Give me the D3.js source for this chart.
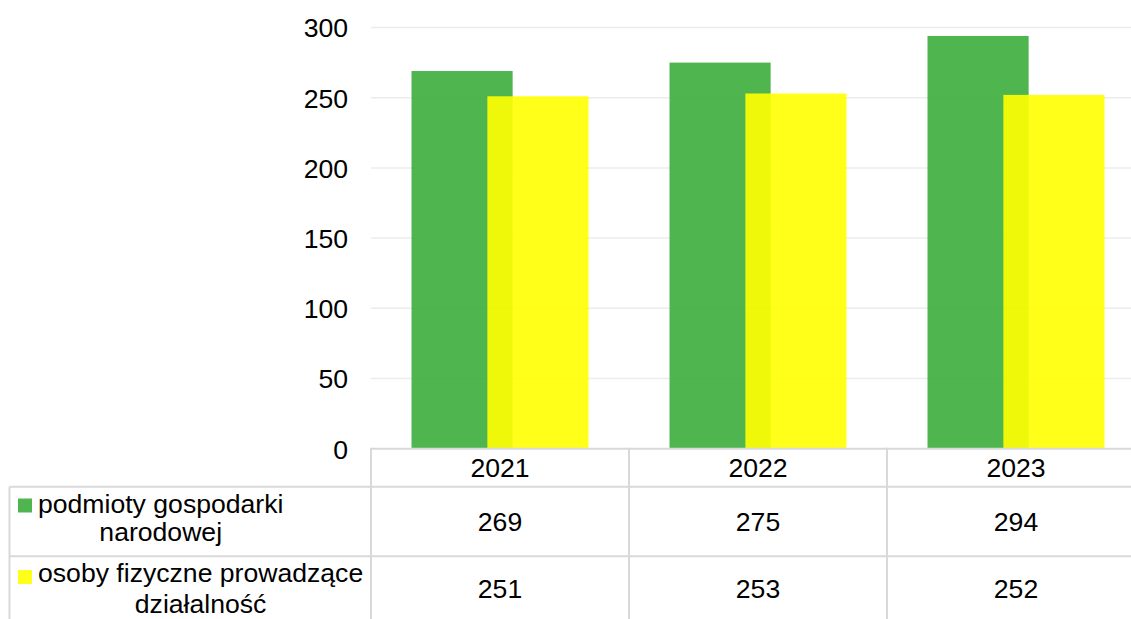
<!DOCTYPE html>
<html>
<head>
<meta charset="utf-8">
<script src="https://cdn.jsdelivr.net/npm/d3@7"></script>
<style>
  html, body { margin: 0; padding: 0; background: #fff; }
  svg { display: block; font-family: "Liberation Sans", Arial, sans-serif; }
</style>
</head>
<body>
<svg id="chart" width="1131" height="619"></svg>
<script>
const years = ["2021", "2022", "2023"];
const seriesNames = [["podmioty gospodarki", "narodowej"], ["osoby fizyczne prowadzące", "działalność"]];
const podmiotyValues = [269, 275, 294];
const osobyValues = [251, 253, 252];
const yTicks = [0, 50, 100, 150, 200, 250, 300];
const seriesColors = ["#3CAE3C", "#FFFF00"];

const svg = d3.select("#chart");
const fontSize = 26.6;
const plotLeft = 371, plotRight = 1145;
const y0 = 448.7, yTop = 27.5;

const x = d3.scaleBand().domain(years).range([plotLeft, plotRight]).padding(0);
const y = d3.scaleLinear().domain([0, 300]).range([y0, yTop]);
const bw = x.bandwidth();
const barW = bw * 0.392;
const offset = bw * 0.147;

// gridlines
svg.append("g").selectAll("line").data(yTicks.filter(d => d > 0)).join("line")
  .attr("x1", plotLeft).attr("x2", plotRight)
  .attr("y1", d => y(d)).attr("y2", d => y(d))
  .attr("stroke", "#ececec").attr("stroke-width", 1.5);

// y axis labels
const yAxis = d3.axisLeft(y).tickValues(yTicks).tickSize(0).tickPadding(0).tickFormat(d3.format("d"));
const gy = svg.append("g").attr("transform", `translate(348,0)`).call(yAxis);
gy.select(".domain").remove();
gy.selectAll("text").attr("font-size", fontSize).attr("fill", "#000")
  .attr("font-family", "Liberation Sans, Arial, sans-serif").attr("dy", "0.35em");

// bars
const series = [podmiotyValues, osobyValues];
series.forEach((vals, si) => {
  svg.append("g").selectAll("rect").data(years).join("rect")
    .attr("x", d => x(d) + bw / 2 + (si === 0 ? -offset : offset) - barW / 2)
    .attr("width", barW)
    .attr("y", (d, i) => y(vals[i]))
    .attr("height", (d, i) => y0 - y(vals[i]))
    .attr("fill", seriesColors[si])
    .attr("fill-opacity", 0.9);
});

// data table
const rowTop = [448.7, 486.7, 556.3];
const rowBot = [486.7, 556.3, 626];
const tableLeft = 9.5;
const lineColor = "#d9d9d9";
const tg = svg.append("g");
tg.append("line").attr("x1", plotLeft).attr("x2", plotRight).attr("y1", rowTop[0]).attr("y2", rowTop[0])
  .attr("stroke", lineColor).attr("stroke-width", 2);
[rowTop[1], rowTop[2]].forEach(yy => {
  tg.append("line").attr("x1", tableLeft).attr("x2", plotRight).attr("y1", yy).attr("y2", yy)
    .attr("stroke", lineColor).attr("stroke-width", 2);
});
tg.append("line").attr("x1", tableLeft).attr("x2", tableLeft).attr("y1", rowTop[1]).attr("y2", 640)
  .attr("stroke", lineColor).attr("stroke-width", 2);
[...years.map(d => x(d)), plotRight].forEach(xx => {
  tg.append("line").attr("x1", xx).attr("x2", xx).attr("y1", rowTop[0] - 1).attr("y2", 640)
    .attr("stroke", lineColor).attr("stroke-width", 2);
});
// year labels
tg.append("g").selectAll("text").data(years).join("text")
  .attr("x", d => x(d) + bw / 2).attr("y", (rowTop[0] + rowBot[0]) / 2).attr("dy", "0.35em")
  .attr("text-anchor", "middle").attr("font-size", fontSize).attr("fill", "#000").text(d => d);
// values
const valueRowCenters = [521.5, 589];
series.forEach((vals, si) => {
  tg.append("g").selectAll("text").data(years).join("text")
    .attr("x", d => x(d) + bw / 2).attr("y", valueRowCenters[si]).attr("dy", "0.35em")
    .attr("text-anchor", "middle").attr("font-size", fontSize).attr("fill", "#000")
    .text((d, i) => vals[i]);
});
// legend labels
const labelBaselines = [[513, 540.5], [581.5, 613]];
const keyTops = [498.5, 570];
const textLeft = 38;
seriesNames.forEach((lines, si) => {
  const g = tg.append("g");
  const texts = g.selectAll("text").data(lines).join("text")
    .attr("y", (d, i) => labelBaselines[si][i])
    .attr("font-size", fontSize).attr("fill", "#000")
    .attr("text-anchor", "middle").text(d => d);
  let maxW = 0;
  texts.each(function () { maxW = Math.max(maxW, this.getComputedTextLength()); });
  texts.attr("x", textLeft + maxW / 2);
  g.append("rect").attr("x", 18).attr("y", keyTops[si]).attr("width", 14).attr("height", 14)
    .attr("fill", seriesColors[si]).attr("fill-opacity", 0.9);
});
</script>
</body>
</html>
